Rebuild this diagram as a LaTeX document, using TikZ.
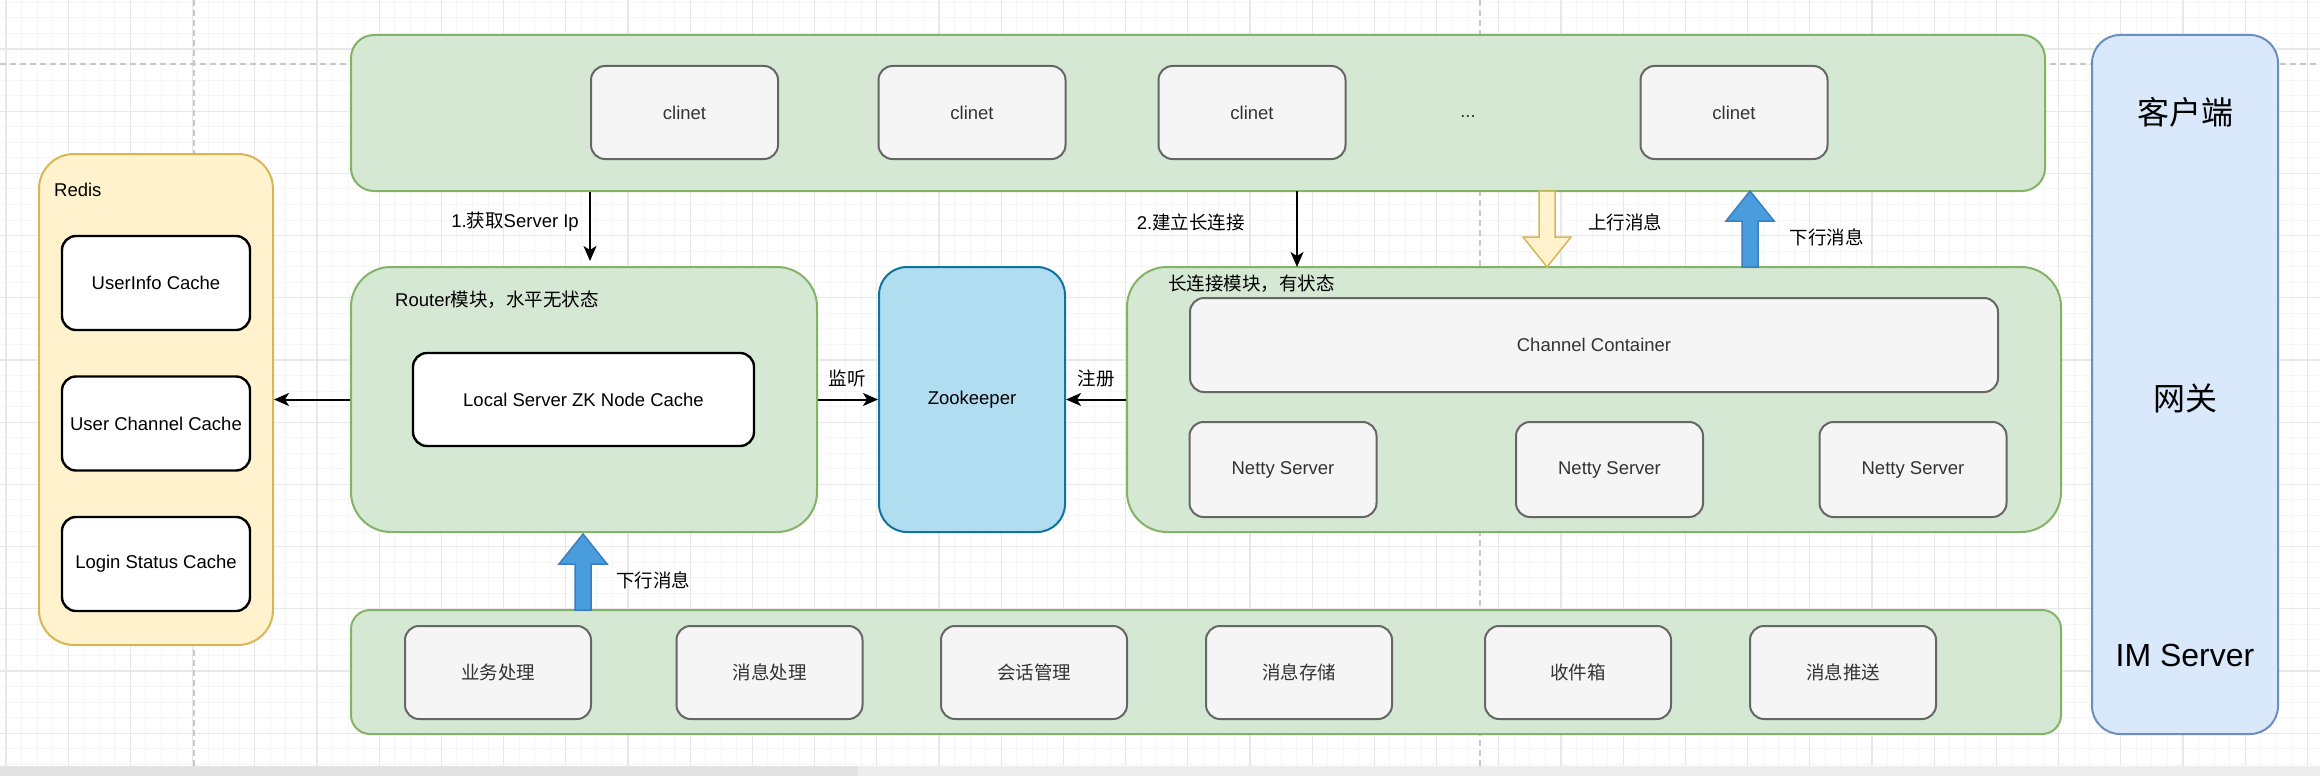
\documentclass[tikz,border=0pt]{standalone}
\usepackage{fontspec}
\setmainfont{Liberation Sans}
\newfontfamily\cjk{Noto Sans CJK SC}
\usepackage{tikz}
\usetikzlibrary{arrows.meta}
\definecolor{panelfill}{HTML}{D5E8D4}
\definecolor{panelline}{HTML}{82B366}
\definecolor{greyfill}{HTML}{F5F5F5}
\definecolor{greyline}{HTML}{666666}
\definecolor{greytext}{HTML}{333333}
\definecolor{redisfill}{HTML}{FFF2CC}
\definecolor{redisline}{HTML}{D6B656}
\definecolor{zkfill}{HTML}{B1DDF0}
\definecolor{zkline}{HTML}{10739E}
\definecolor{colfill}{HTML}{DAE8FC}
\definecolor{colline}{HTML}{6C8EBF}
\definecolor{upfill}{HTML}{4A9DDC}
\definecolor{upline}{HTML}{3A7EBF}
\definecolor{gridminor}{HTML}{F6F6F6}
\definecolor{gridmajor}{HTML}{E8E8E8}
\definecolor{guideline}{HTML}{C8C8C8}
\definecolor{barfill}{HTML}{EDEDED}
\definecolor{scrollfill}{HTML}{E2E2E2}
\newcommand\smalltxt{\fontsize{18.5}{22}\selectfont}
\newcommand\largetxt{\fontsize{32}{38}\selectfont}
\tikzset{
  panel/.style={rectangle,draw=panelline,fill=panelfill,line width=2pt,inner sep=0pt},
  greybox/.style={rectangle,draw=greyline,fill=greyfill,line width=2pt,rounded corners=14pt,
    minimum width=187pt,minimum height=93pt,inner sep=0pt,text=greytext,font=\smalltxt},
  cachebox/.style={rectangle,draw=black,fill=white,line width=2.4pt,rounded corners=14pt,
    minimum width=188pt,minimum height=94pt,inner sep=0pt,font=\smalltxt},
  redispanel/.style={rectangle,draw=redisline,fill=redisfill,line width=2pt,rounded corners=35pt,
    minimum width=234pt,minimum height=491pt,inner sep=0pt},
  zkbox/.style={rectangle,draw=zkline,fill=zkfill,line width=2pt,rounded corners=28pt,
    minimum width=186pt,minimum height=265pt,inner sep=0pt,font=\smalltxt},
  colbox/.style={rectangle,draw=colline,fill=colfill,line width=2pt,rounded corners=28pt,
    minimum width=186pt,minimum height=699pt,inner sep=0pt},
  lbl/.style={inner sep=0pt,font=\smalltxt},
  biglbl/.style={inner sep=0pt,font=\largetxt},
  arr/.style={-{Stealth[length=15pt,width=13pt,inset=4pt]},line width=2pt},
  bluearrow/.style={draw=upline,fill=upfill,line width=1.5pt},
  yellowarrow/.style={draw=redisline,fill=redisfill,line width=1.5pt},
  fatarrow/.pic={\path[pic actions] (-8,0) -- (-8,-46) -- (-24,-46) -- (0,-76) -- (24,-46)
    -- (8,-46) -- (8,0) -- cycle;},
  minorgrid/.style={draw=gridminor,line width=1pt},
  majorgrid/.style={draw=gridmajor,line width=1.2pt},
  guide/.style={draw=guideline,line width=1.5pt,dash pattern=on 6pt off 4pt}
}

\begin{document}
\begin{tikzpicture}[x=1pt,y=-1pt]
\useasboundingbox (0,0) rectangle (2320,776);
% canvas grid
\fill[white] (0,0) rectangle (2320,776);
\foreach \gx in {-9.55,6,...,2320}{\draw[minorgrid] (\gx,0) -- (\gx,766);}
\foreach \gy in {2.35,17.9,...,766}{\draw[minorgrid] (0,\gy) -- (2320,\gy);}
\foreach \gx in {6,68.2,...,2320}{\draw[majorgrid] (\gx,0) -- (\gx,766);}
\foreach \gy in {49,111.2,...,766}{\draw[majorgrid] (0,\gy) -- (2320,\gy);}
\fill[barfill] (0,766) rectangle (2320,776);
\fill[scrollfill] (0,766) rectangle (858,776);
\draw[guide] (0,64) -- (2320,64);
\draw[guide] (194,0) -- (194,766);
\draw[guide] (1480,0) -- (1480,766);

% clients
\node[panel,rounded corners=23pt,minimum width=1694pt,minimum height=156pt] (cpanel) at (1198,113) {};
\foreach \n/\cx in {1/684.5,2/972,3/1252,4/1734}{\node[greybox] (clinet\n) at (\cx,112.5) {clinet};}
\node[lbl,text=greytext] (dots) at (1468,117) {...};

% redis
\node[redispanel] (redis) at (156,399.5) {};
\node[lbl,anchor=west] (redislbl) at (54,190) {Redis};
\foreach \n/\cy/\t in {info/283/UserInfo Cache,chan/423.5/User Channel Cache,login/564/Login Status Cache}{
  \node[cachebox] (\n) at (156,\cy) {\t};}

% router
\node[panel,rounded corners=40pt,minimum width=466pt,minimum height=265pt] (router) at (584,399.5) {};
\node[lbl,anchor=west] (routerlbl) at (395,300) {Router{\cjk 模块，水平无状态}};
\node[cachebox,minimum width=341pt,minimum height=93pt] (zkcache) at (583.5,399.5) {Local Server ZK Node Cache};

% zookeeper
\node[zkbox] (zk) at (972,399.5) {Zookeeper};

% long connection
\node[panel,rounded corners=40pt,minimum width=934pt,minimum height=265pt] (conn) at (1594,399.5) {};
\node[lbl,anchor=west] (connlbl) at (1168,284) {\cjk 长连接模块，有状态};
\node[greybox,minimum width=808pt,minimum height=94pt] (container) at (1594,345) {Channel Container};
\foreach \n/\cx in {1/1283,2/1609.5,3/1913}{\node[greybox,minimum height=95pt] (netty\n) at (\cx,469.5) {Netty Server};}

% services
\node[panel,rounded corners=19pt,minimum width=1710pt,minimum height=124pt] (svc) at (1206,672) {};
\foreach \n/\cx/\t in {1/498/业务处理,2/769.5/消息处理,3/1034/会话管理,4/1299/消息存储,5/1578/收件箱,6/1843/消息推送}{
  \node[greybox,minimum width=186pt] (svc\n) at (\cx,672.5) {\cjk \t};}

% layers
\node[colbox] (col) at (2185,384.5) {};
\node[biglbl] (colclient) at (2185,112) {\cjk 客户端};
\node[biglbl] (colgate) at (2185,398) {\cjk 网关};
\node[biglbl] (colim) at (2185,655) {IM Server};

% connectors
\draw[arr] (router.west) -- (redis.east);
\draw[arr] (router.east) -- (zk.west);
\draw[arr] (conn.west) -- (zk.east);
\node[lbl] (lblwatch) at (847,378) {\cjk 监听};
\node[lbl] (lblreg) at (1096,378) {\cjk 注册};

\coordinate (ipfrom) at (clinet1.west |- cpanel.south);
\coordinate (ipto) at (clinet1.west |- router.north);
\draw[arr,shorten >=5pt] (ipfrom) -- (ipto);
\node[lbl,anchor=east] (lblip) at (579,222) {1.{\cjk 获取}Server Ip};

\coordinate (connfrom) at (1297,191);
\coordinate (connto) at (1297,267);
\draw[arr] (connfrom) -- (connto);
\node[lbl,anchor=east] (lblconn) at (1245,222) {2.{\cjk 建立长连接}};

% message flow
\pic[yellowarrow,rotate=180] at (1547,191) {fatarrow};
\pic[bluearrow] at (1750,267) {fatarrow};
\pic[bluearrow] at (583,610) {fatarrow};
\node[lbl] (lblup) at (1625,222) {\cjk 上行消息};
\node[lbl] (lbldown) at (1826.5,237) {\cjk 下行消息};
\node[lbl] (lblpush) at (653,580) {\cjk 下行消息};
\end{tikzpicture}
\end{document}
